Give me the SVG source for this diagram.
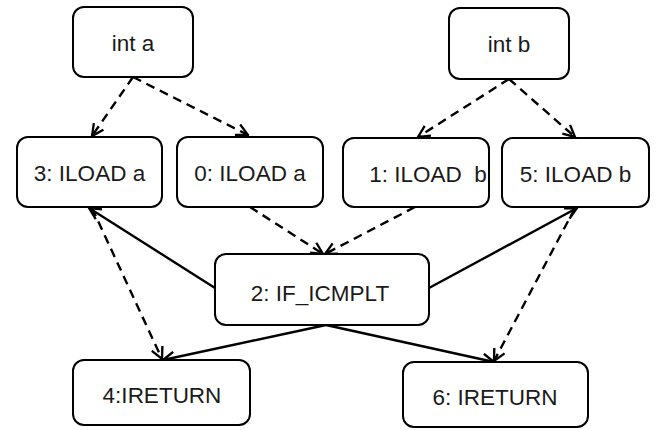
<svg xmlns="http://www.w3.org/2000/svg" width="656" height="430" viewBox="0 0 656 430">
  <style>
    .box { fill: #ffffff; stroke: #000000; stroke-width: 2; }
    .lbl { font-family: "Liberation Sans", Arial, sans-serif; font-size: 22.5px; fill: #1a1a1a; text-anchor: middle; white-space: pre; }
    .edge { fill: none; stroke: #000000; stroke-width: 2.4; marker-end: url(#arrow); }
    .dash { stroke-dasharray: 9 6; }
  </style>
  <defs>
    <marker id="arrow" markerUnits="userSpaceOnUse" markerWidth="14" markerHeight="14" viewBox="0 0 12 12" refX="11" refY="6" orient="auto">
      <path d="M1,1 L11,6 L1,11" fill="none" stroke="#000000" stroke-width="2"/>
    </marker>
  </defs>
  <rect width="656" height="430" fill="#ffffff"/>

  <g id="connectors">
    <path class="edge dash" d="M133,77 L92,136"/>
    <path class="edge dash" d="M133,77 L248,135"/>
    <path class="edge dash" d="M509,79 L418,137"/>
    <path class="edge dash" d="M509,79 L575,137"/>
    <path class="edge dash" d="M250,207 L323,254"/>
    <path class="edge dash" d="M415,207 L325,254"/>
    <path class="edge" d="M215,288 L89,208"/>
    <path class="edge" d="M429,288 L577,208"/>
    <path class="edge dash" d="M92,208 L162,359"/>
    <path class="edge" d="M326,325 L163,360"/>
    <path class="edge" d="M326,325 L494,362"/>
    <path class="edge dash" d="M575,208 L494,361"/>
  </g>

  <g id="int-a">
    <rect class="box" x="73" y="7" width="120" height="70" rx="11"/>
    <text class="lbl" x="133" y="51">int a</text>
  </g>
  <g id="int-b">
    <rect class="box" x="449" y="8" width="120" height="71" rx="11"/>
    <text class="lbl" x="509" y="52">int b</text>
  </g>
  <g id="iload3">
    <rect class="box" x="17" y="137" width="145" height="70" rx="11"/>
    <text class="lbl" x="89.5" y="181">3: ILOAD a</text>
  </g>
  <g id="iload0">
    <rect class="box" x="177" y="137" width="146" height="70" rx="11"/>
    <text class="lbl" x="250" y="181">0: ILOAD a</text>
  </g>
  <g id="iload1">
    <rect class="box" x="343" y="138" width="146" height="69" rx="11"/>
    <text class="lbl" x="428" y="182">1: ILOAD  b</text>
  </g>
  <g id="iload5">
    <rect class="box" x="502" y="138" width="147" height="69" rx="11"/>
    <text class="lbl" x="575.5" y="182">5: ILOAD b</text>
  </g>
  <g id="if-icmplt2">
    <rect class="box" x="215" y="254" width="214" height="71" rx="11"/>
    <text class="lbl" x="320" y="301">2: IF_ICMPLT</text>
  </g>
  <g id="ireturn4">
    <rect class="box" x="73" y="360" width="177" height="65" rx="11"/>
    <text class="lbl" x="162" y="403">4:IRETURN</text>
  </g>
  <g id="ireturn6">
    <rect class="box" x="403" y="362" width="185" height="65" rx="11"/>
    <text class="lbl" x="495" y="405">6: IRETURN</text>
  </g>
</svg>
